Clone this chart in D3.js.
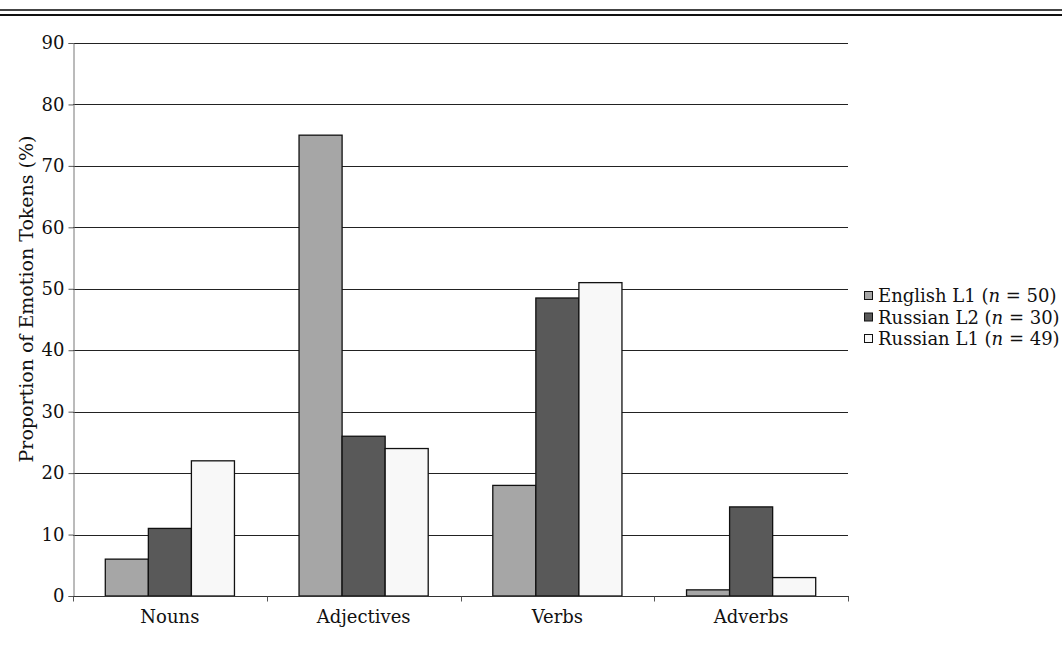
<!DOCTYPE html>
<html>
<head>
<meta charset="utf-8">
<script src="https://cdn.jsdelivr.net/npm/d3@7/dist/d3.min.js"></script>
<style>
  html, body { margin: 0; padding: 0; background: #fff; }
  svg { display: block; }
  text { font-family: "DejaVu Serif", serif; fill: #111; }
</style>
</head>
<body>
<svg id="chart" width="1062" height="652"></svg>
<script>
const categories = ["Nouns", "Adjectives", "Verbs", "Adverbs"];
const seriesNames = ["English L1", "Russian L2", "Russian L1"];
const seriesN = [50, 30, 49];
const englishL1 = [6, 75, 18, 1];
const russianL2 = [11, 26, 48.5, 14.5];
const russianL1 = [22, 24, 51, 3];
const seriesValues = [englishL1, russianL2, russianL1];
const seriesColors = ["#a6a6a6", "#595959", "#f8f8f8"];
const yTicks = [0, 10, 20, 30, 40, 50, 60, 70, 80, 90];
const yTitle = "Proportion of Emotion Tokens (%)";

(function () {
const svg = d3.select("#chart");
const mLeft = 73, mRight = 848, mTop = 43, mBottom = 596;

// header double rule
svg.append("rect").attr("x", 0).attr("y", 9).attr("width", 1062).attr("height", 2).attr("fill", "#444");
svg.append("rect").attr("x", 0).attr("y", 14).attr("width", 1062).attr("height", 2).attr("fill", "#111");

const x0 = d3.scaleBand().domain(categories).range([mLeft, mRight]).paddingInner(0).paddingOuter(0);
const x1 = d3.scaleBand().domain(seriesNames).range([0, x0.bandwidth()]).paddingInner(0).paddingOuter(0.75);
const y = d3.scaleLinear().domain([0, 90]).range([mBottom, mTop]);

// gridlines
svg.append("g").selectAll("line").data(yTicks.filter(t => t > 0)).join("line")
  .attr("x1", mLeft).attr("x2", mRight)
  .attr("y1", d => Math.round(y(d)) + 0.5).attr("y2", d => Math.round(y(d)) + 0.5)
  .attr("stroke", "#222").attr("stroke-width", 1);

// bars
const data = [];
categories.forEach((c, i) => seriesNames.forEach((s, j) => data.push({c, s, j, v: seriesValues[j][i]})));
svg.append("g").selectAll("rect").data(data).join("rect")
  .attr("x", d => x0(d.c) + x1(d.s))
  .attr("y", d => y(d.v))
  .attr("width", x1.bandwidth())
  .attr("height", d => y(0) - y(d.v))
  .attr("fill", d => seriesColors[d.j])
  .attr("stroke", "#111").attr("stroke-width", 1.3);

// y axis
const yAxis = svg.append("g").attr("transform", `translate(${mLeft + 0.5},0)`)
  .call(d3.axisLeft(y).tickValues(yTicks).tickSize(5).tickPadding(4).tickFormat(d3.format("d")));
yAxis.select(".domain").attr("stroke", "#777");
yAxis.selectAll(".tick line").attr("stroke", "#555");
yAxis.selectAll(".tick text").attr("font-family", "DejaVu Serif").attr("font-size", 18).attr("fill", "#111");

// x axis
const xAxis = svg.append("g").attr("transform", `translate(0,${mBottom + 0.5})`);
xAxis.append("line").attr("x1", mLeft).attr("x2", mRight + 1).attr("y1", 0).attr("y2", 0).attr("stroke", "#333");
const bounds = categories.map(c => x0(c)).concat([x0(categories[categories.length - 1]) + x0.bandwidth()]);
xAxis.selectAll("line.tk").data(bounds).join("line").attr("class", "tk")
  .attr("x1", d => Math.round(d) + 0.5).attr("x2", d => Math.round(d) + 0.5)
  .attr("y1", 0).attr("y2", 5).attr("stroke", "#555");
xAxis.selectAll("text").data(categories).join("text")
  .attr("x", d => x0(d) + x0.bandwidth() / 2)
  .attr("y", 26)
  .attr("text-anchor", "middle")
  .attr("font-size", 18)
  .text(d => d);

// y title
svg.append("text")
  .attr("transform", `translate(33,299) rotate(-90)`)
  .attr("text-anchor", "middle")
  .attr("font-size", 19)
  .text(yTitle);

// legend
const lg = svg.append("g").attr("transform", "translate(864,296)");
seriesNames.forEach((s, j) => {
  const row = lg.append("g").attr("transform", `translate(0,${j * 21.5})`);
  row.append("rect").attr("x", 0.5).attr("y", -4.5).attr("width", 8).attr("height", 8)
    .attr("fill", seriesColors[j]).attr("stroke", "#111").attr("stroke-width", 1);
  const t = row.append("text").attr("x", 14).attr("y", 6).attr("font-size", 18);
  t.append("tspan").text(s + " (");
  t.append("tspan").attr("font-style", "italic").text("n");
  t.append("tspan").text(" = " + seriesN[j] + ")");
});
})();
</script>
</body>
</html>
